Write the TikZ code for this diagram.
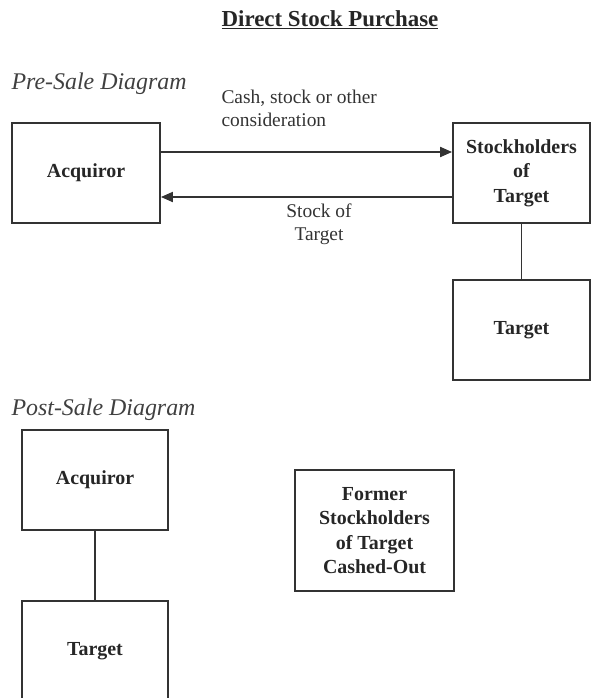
\documentclass[tikz,border=0pt]{standalone}
\usepackage{fontspec}
\setmainfont{Liberation Serif}
\usetikzlibrary{arrows.meta}
\begin{document}
\begin{tikzpicture}[x=1bp,y=-1bp,
  ink/.style={draw=black!80,line width=1.8bp},
  box/.style={ink,rectangle,inner sep=0pt,align=center,text=black!85,
    font=\fontsize{20}{24.5}\selectfont\bfseries},
  link/.style={ink},
  arr/.style={ink,-{Triangle[length=12bp,width=10bp]}},
  note/.style={text=black!80,align=center,font=\fontsize{19.5}{23}\selectfont},
  heading/.style={text=black!75,anchor=west,font=\fontsize{24}{28}\selectfont\itshape}]
\useasboundingbox (0,0) rectangle (597,698);

% title
\node[text=black!85,font=\fontsize{23}{27}\selectfont\bfseries] (title) at (330,20) {\underline{Direct Stock Purchase}};

% pre-sale structure
\node[heading] (pre) at (8,84) {Pre-Sale Diagram};
\node[box,minimum width=148bp,minimum height=100bp] (acq) at (86,173) {Acquiror};
\node[box,minimum width=137bp,minimum height=100bp] (sh) at (521.5,173) {Stockholders\\of\\Target};
\node[box,minimum width=137bp,minimum height=100bp] (tgt) at (521.5,330) {Target};
\node[note,align=left,anchor=west] (cash) at (218,108) {Cash, stock or other\\consideration};
\node[note] (sot) at (319,224) {Stock of\\Target};

\draw[arr] ([yshift=21bp]acq.east) -- ([yshift=21bp]sh.west);
\draw[arr] ([yshift=-24bp]sh.west) -- ([yshift=-24bp]acq.east);
\draw[link] (sh.south) -- (tgt.north);

% post-sale structure
\node[heading] (post) at (8,410) {Post-Sale Diagram};
\node[box,minimum width=146bp,minimum height=100bp] (acq2) at (95,480) {Acquiror};
\node[box,minimum width=146bp,minimum height=100bp] (tgt2) at (95,651) {Target};
\node[box,minimum width=159bp,minimum height=121bp] (former) at (374.5,530.5) {Former\\Stockholders\\of Target\\Cashed-Out};
\draw[link] (acq2.south) -- (tgt2.north);
\end{tikzpicture}
\end{document}
